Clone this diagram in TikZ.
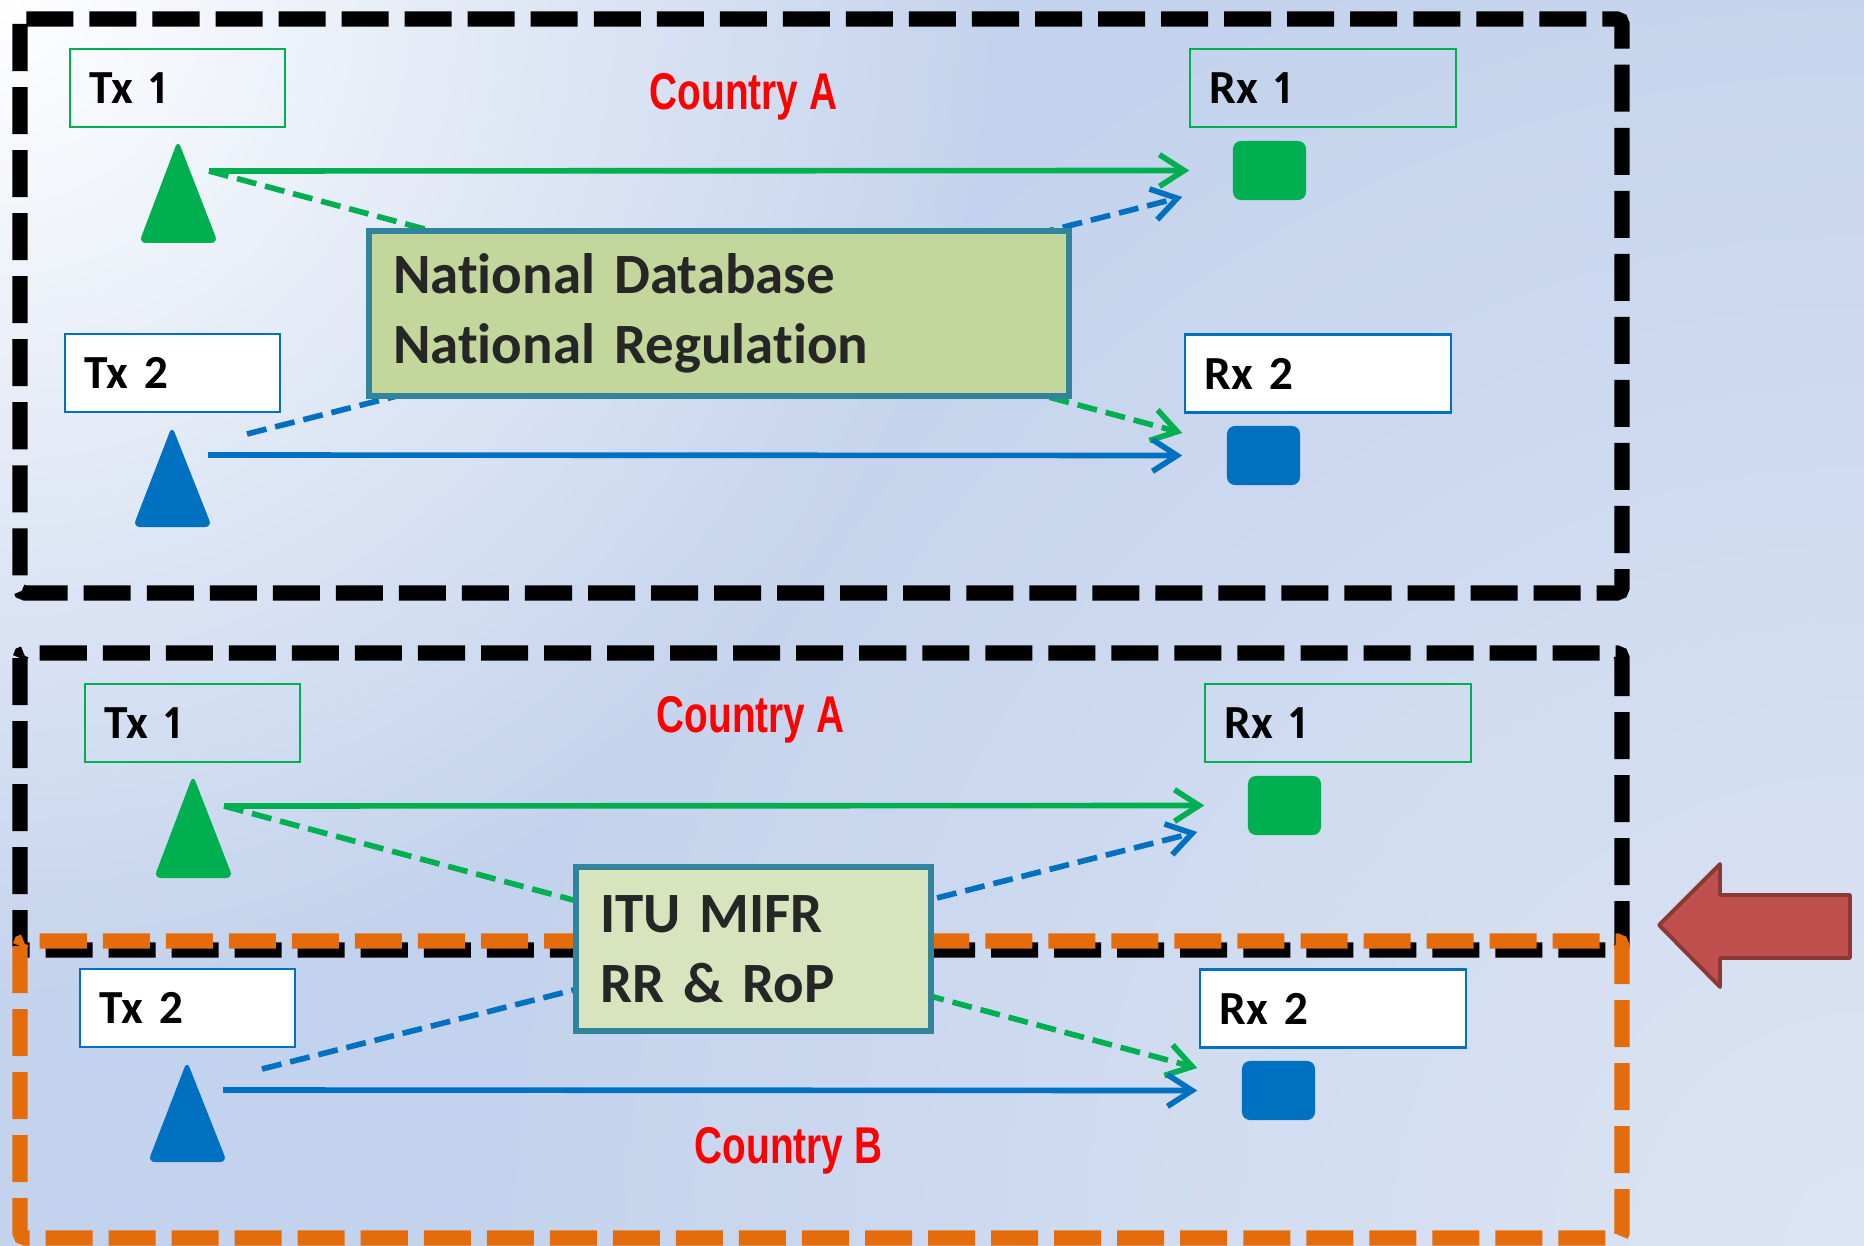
\documentclass[tikz,border=0pt]{standalone}
\usepackage{fontspec}
\setmainfont{Carlito}[Ligatures=CommonOff, WordSpace=0.6, Numbers=Proportional]
\newfontfamily\ctryfont{Liberation Sans}[FakeStretch=0.75]
\usetikzlibrary{arrows.meta, fadings}

\definecolor{txgreen}{HTML}{00B050}
\definecolor{txblue}{HTML}{0070C0}
\definecolor{dbborder}{HTML}{31849B}
\definecolor{dbfill}{HTML}{C3D69B}
\definecolor{itufill}{HTML}{D7E4BD}
\definecolor{borderorange}{HTML}{E46C0A}
\definecolor{bgblue}{HTML}{C4D3ED}
\definecolor{bglight}{HTML}{DDE5F4}
\definecolor{arrowfill}{HTML}{C0504D}
\definecolor{arrowdraw}{HTML}{8C3836}
\definecolor{textgray}{HTML}{262626}

\tikzfading[name=glow, inner color=transparent!0, outer color=transparent!100]

\tikzset{
  labelbox/.style={draw, line width=0.6pt, minimum height=0.78cm, inner xsep=0.2cm,
    align=left, font=\fontsize{13.5}{16}\selectfont\bfseries},
  rxsquare/.style={rectangle, rounded corners=0.08cm, minimum width=0.73cm,
    minimum height=0.59cm, inner sep=0pt},
  link/.style={line width=1.6pt, -{Straight Barb[length=7pt,width=9pt]}},
  crosslink/.style={link, dash pattern=on 0.2cm off 0.09cm},
  region/.style={line width=4.3pt, dash pattern=on 0.47cm off 0.16cm, rounded corners=0.05cm},
  regbox/.style={draw=dbborder, line width=1.7pt, anchor=north west, align=left,
    inner xsep=0.24cm, text=textgray, font=\fontsize{16.2}{19.9}\selectfont\bfseries},
  country/.style={anchor=base, text=red, font=\fontsize{14.7}{17}\ctryfont\bfseries}
}

\begin{document}
\begin{tikzpicture}[x=0.01cm, y=-0.01cm]
    % Background
    \useasboundingbox (0,0) rectangle (1864,1246);
    \fill[bgblue] (0,0) rectangle (1864,1246);
    \begin{scope}
        \clip (0,0) rectangle (1864,1246);
        \fill[bglight, path fading=glow] (1864,1246) circle (14cm);
        \fill[white, path fading=glow] (0,0) circle (10cm);
    \end{scope}

    % Country borders
    \draw[region] (20,19) rectangle (1622,593);
    \draw[region] (20,653) rectangle (1622,950);
    \draw[region, borderorange] (20,941) rectangle (1622,1238);

    % Same links in both panels
    \foreach \dx/\dy/\p in {0/0/a, 15/635/b} {
        \begin{scope}[shift={(\dx,\dy)}]
            % Labels
            \node[labelbox, text width=1.75cm, draw=txgreen] (tx1\p) at (177.5,88) {Tx 1};
            \node[labelbox, text width=2.26cm, draw=txgreen] (rx1\p) at (1323,88) {Rx 1};
            \node[labelbox, text width=1.75cm, draw=txblue, fill=white] (tx2\p) at (172.5,373) {Tx 2};
            \node[labelbox, text width=2.26cm, draw=txblue, fill=white] (rx2\p) at (1318,373.5) {Rx 2};

            % Transmitters
            \fill[txgreen, rounded corners=0.07cm] (178,140) -- (218,243) -- (139,243) -- cycle;
            \coordinate (ant1\p) at (178,142);
            \fill[txblue, rounded corners=0.07cm] (172,426) -- (212,527) -- (133,527) -- cycle;
            \coordinate (ant2\p) at (172,428);

            % Receivers
            \node[rxsquare, fill=txgreen] (rxs1\p) at (1269.5,170.5) {};
            \node[rxsquare, fill=txblue] (rxs2\p) at (1263.5,455.5) {};

            % Wanted and unwanted links
            \draw[link, txgreen] ([shift={(31,29)}]ant1\p) -- ([shift={(-43,0)}]rxs1\p.west);
            \draw[crosslink, txgreen] ([shift={(31,29)}]ant1\p) -- ([shift={(-44,-22.5)}]rxs2\p.west);
            \draw[link, txblue] ([shift={(36,27)}]ant2\p) -- ([shift={(-44,0)}]rxs2\p.west);
            \draw[crosslink, txblue] ([shift={(75,6)}]ant2\p) -- ([shift={(-50,26.5)}]rxs1\p.west);
        \end{scope}
    }

    % Regulation boxes
    \node[regbox, fill=dbfill, minimum width=7cm, minimum height=1.65cm, text width=6.52cm]
        (natdb) at (366,228) {National Database\\National Regulation};
    \node[regbox, fill=itufill, minimum width=3.55cm, minimum height=1.64cm, text width=3.07cm]
        (itu) at (573,864) {ITU MIFR\\RR \& RoP};

    % Country names
    \node[country] (ctryA) at (743.5,110) {Country A};
    \node[country] (ctryAA) at (750.5,732) {Country A};
    \node[country] (ctryB) at (788.5,1163) {Country B};

    % Big arrow
    \filldraw[fill=arrowfill, draw=arrowdraw, line width=1.1pt, line join=round]
        (1659,925) -- (1720,864) -- (1720,895) -- (1850,895) -- (1850,958)
        -- (1720,958) -- (1720,987) -- cycle;
\end{tikzpicture}
\end{document}
